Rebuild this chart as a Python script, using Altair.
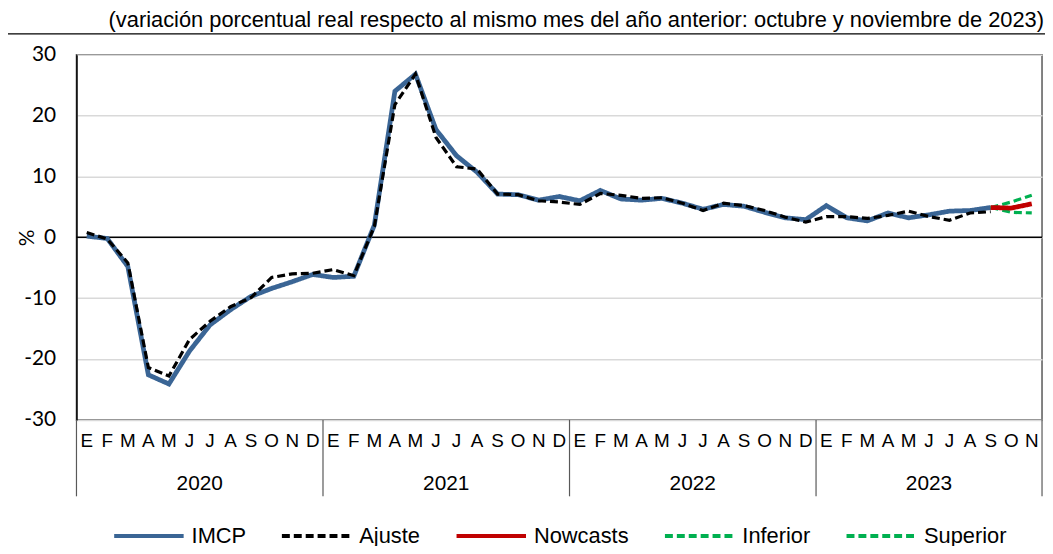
import altair as alt
import pandas as pd

# ---------------- data ----------------
meses = ["E", "F", "M", "A", "M", "J", "J", "A", "S", "O", "N", "D"]
anios = ["2020", "2021", "2022", "2023"]
n_meses = 47  # enero 2020 .. noviembre 2023

imcp = [0.2, -0.2, -4.8, -22.6, -24.1, -18.7, -14.4, -11.9, -9.7, -8.4, -7.3, -6.1,
        -6.6, -6.4, 2.0, 24.0, 26.8, 17.7, 13.4, 10.7, 7.1, 7.0, 6.1, 6.7,
        6.0, 7.7, 6.3, 6.1, 6.4, 5.6, 4.6, 5.4, 5.1, 4.1, 3.2, 2.9,
        5.2, 3.2, 2.7, 4.0, 3.2, 3.7, 4.3, 4.4, 4.9]
ajuste = [0.8, -0.3, -4.2, -21.4, -22.8, -16.8, -13.8, -11.4, -9.9, -6.6, -6.0, -5.9,
          -5.3, -6.3, 1.8, 21.8, 26.8, 16.4, 11.6, 11.2, 7.1, 7.0, 6.0, 5.8,
          5.4, 7.2, 6.9, 6.4, 6.5, 5.6, 4.4, 5.6, 5.2, 4.4, 3.3, 2.5,
          3.4, 3.4, 3.1, 3.6, 4.3, 3.4, 2.8, 4.0, 4.2]
inicio_pronostico = 44  # septiembre 2023
nowcasts = [4.9, 4.8, 5.5]
inferior = [4.9, 4.1, 4.0]
superior = [4.9, 5.8, 6.9]

series = ["IMCP", "Ajuste", "Nowcasts", "Inferior", "Superior"]
colores = ["#3A6595", "#000000", "#C00000", "#00B050", "#00B050"]
guiones = [[1, 0], [8, 4], [1, 0], [8, 4], [8, 4]]
grosores = {"IMCP": 4.8, "Ajuste": 3.2, "Nowcasts": 4.8, "Inferior": 3.2, "Superior": 3.2}

titulo = "(variación porcentual real respecto al mismo mes del año anterior: octubre y noviembre de 2023)"

# ---------------- tables ----------------
rows = []
for i, v in enumerate(imcp):
    rows.append({"serie": "IMCP", "pos": i + 0.5, "valor": v})
for i, v in enumerate(ajuste):
    rows.append({"serie": "Ajuste", "pos": i + 0.5, "valor": v})
for nombre, vals in [("Nowcasts", nowcasts), ("Inferior", inferior), ("Superior", superior)]:
    for k, v in enumerate(vals):
        rows.append({"serie": nombre, "pos": inicio_pronostico + k + 0.5, "valor": v})
df = pd.DataFrame(rows)

df_meses = pd.DataFrame({"pos": [k + 0.5 for k in range(n_meses)],
                         "mes": [meses[k % 12] for k in range(n_meses)]})
limites = [0, 12, 24, 36, n_meses]
df_anios = pd.DataFrame({"anio": anios,
                         "pos": [(limites[j] + limites[j + 1]) / 2 for j in range(4)]})
df_lim = pd.DataFrame({"pos": limites})

W, H = 973, 368

xs = alt.Scale(domain=[0, n_meses], nice=False, zero=False)
ys = alt.Scale(domain=[-30, 30], nice=False)

color = alt.Color("serie:N", scale=alt.Scale(domain=series, range=colores),
                  legend=alt.Legend(title=None))
dash = alt.StrokeDash("serie:N", scale=alt.Scale(domain=series, range=guiones),
                      legend=alt.Legend(title=None))

yaxis = alt.Axis(values=[-30, -20, -10, 0, 10, 20, 30], title="%",
                 labelExpr="'' + datum.value",
                 grid=True, gridColor="#D9D9D9", gridWidth=1.5,
                 ticks=False, domain=True, domainColor="#000000", domainWidth=1.5,
                 labelFont="Lato", labelFontSize=21, labelColor="#000000",
                 labelPadding=21,
                 titleFont="Lato", titleFontSize=21, titleFontWeight="normal",
                 titleColor="#000000", titleAngle=270, titleX=-43, titleY=H / 2,
                 titleAlign="center", titleBaseline="alphabetic")

base = alt.Chart(df).encode(
    x=alt.X("pos:Q", scale=xs, axis=None),
    y=alt.Y("valor:Q", scale=ys, axis=yaxis),
    color=color, strokeDash=dash,
)

capas = []
for s in ["IMCP", "Ajuste", "Inferior", "Superior", "Nowcasts"]:
    capas.append(base.transform_filter(alt.datum.serie == s).mark_line(strokeWidth=grosores[s]))

cero = alt.Chart(pd.DataFrame({"valor": [0]})).mark_rule(color="#000000", strokeWidth=1.5).encode(
    y=alt.Y("valor:Q", scale=ys, axis=yaxis))

txt_meses = alt.Chart(df_meses).mark_text(font="Liberation Sans", fontSize=19, baseline="middle",
                                           color="#000000").encode(
    x=alt.X("pos:Q", scale=xs, axis=None), y=alt.value(H + 21), text="mes:N")

txt_anios = alt.Chart(df_anios).mark_text(font="Liberation Sans", fontSize=21, baseline="middle",
                                           color="#000000").encode(
    x=alt.X("pos:Q", scale=xs, axis=None), y=alt.value(H + 65), text="anio:N")

separadores = alt.Chart(df_lim).mark_rule(color="#595959", strokeWidth=1.2).encode(
    x=alt.X("pos:Q", scale=xs, axis=None), y=alt.value(H), y2=alt.value(H + 77))

marco_izq = alt.Chart(pd.DataFrame({"k": [0]})).mark_rule(color="#000000", strokeWidth=1.5,
                                                          orient="vertical").encode(
    x=alt.value(-70), y=alt.value(-21), y2=alt.value(H + 220))
marco_sup = alt.Chart(pd.DataFrame({"k": [0]})).mark_rule(color="#000000", strokeWidth=1.5,
                                                          orient="horizontal").encode(
    x=alt.value(-70), x2=alt.value(W + 40), y=alt.value(-21))

chart = alt.layer(cero, marco_izq, marco_sup, separadores, txt_meses, txt_anios, *capas).properties(
    width=W, height=H,
    autosize=alt.AutoSizeParams(type="none"),
    padding={"left": 69, "top": 45, "right": 3, "bottom": 125},
    title=alt.TitleParams(titulo, anchor="end", frame="group", offset=1, dx=2,
                          font="Liberation Sans", fontSize=22, fontWeight="normal", color="#000000"),
).configure_view(stroke="#595959", strokeWidth=1.5).configure_legend(
    orient="none", legendX=36, legendY=H + 80, direction="horizontal",
    symbolType="stroke", symbolSize=4900, symbolStrokeWidth=4, columnPadding=28, labelOffset=6,
    labelFont="Liberation Sans", labelFontSize=22, labelColor="#000000", padding=0,
)

chart.save("out.html", embed_options={"renderer": "svg", "actions": False})
